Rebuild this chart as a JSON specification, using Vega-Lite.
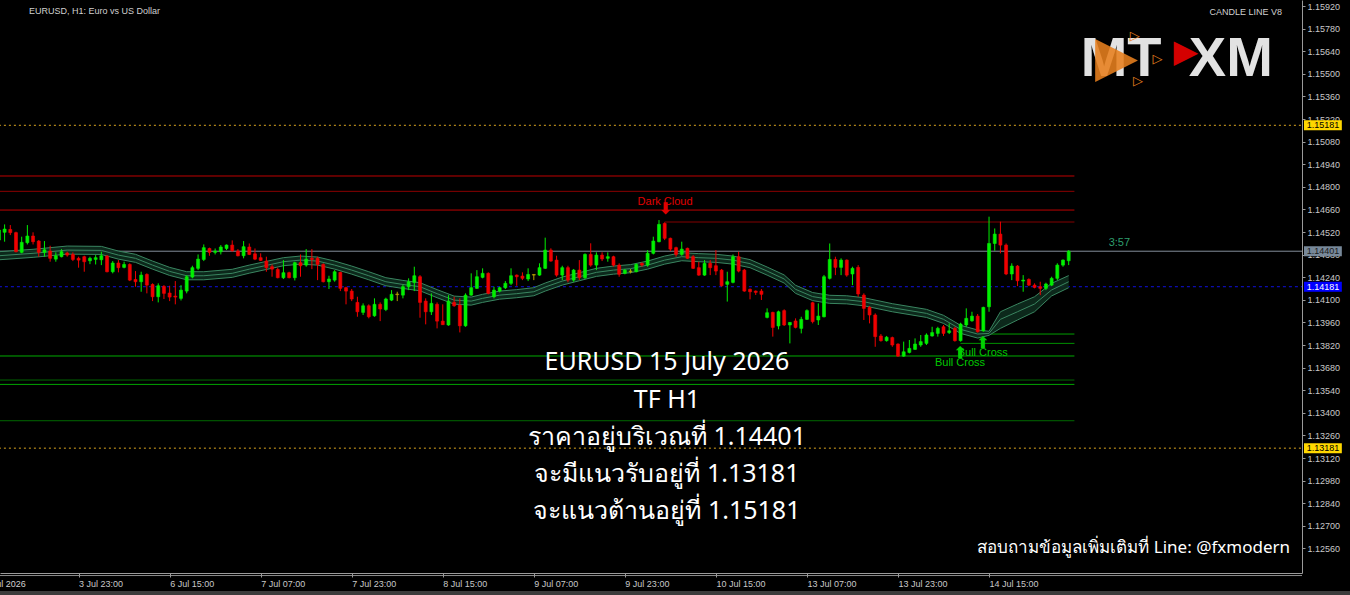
{
"$schema": "https://vega.github.io/schema/vega-lite/v6.json",
"width": 1302, "height": 573, "autosize": "none", "padding": {"left": 0, "top": 0, "right": 48, "bottom": 22},
"background": "#000000",
"config": {"view": {"stroke": null}, "axis": {"grid": false, "labelOverlap": false, "labelBound": false, "labelFlush": false}, "scale": {"continuousPadding": 0}},
"resolve": {"scale": {"color": "independent", "strokeDash": "independent"}},
"datasets": {
"levels": [
{"p":1.15181,"a":0,"b":229,"k":"res"},{"p":1.13181,"a":0,"b":229,"k":"res"},
{"p":1.14401,"a":0,"b":229,"k":"bid"},{"p":1.14181,"a":0,"b":229,"k":"avg"},
{"p":1.14867,"a":0,"b":189,"k":"r1"},{"p":1.14772,"a":0,"b":189,"k":"r2"},
{"p":1.14656,"a":0,"b":189,"k":"r1"},{"p":1.14582,"a":117,"b":189,"k":"r2"},
{"p":1.13888,"a":173,"b":189,"k":"g1"},{"p":1.13830,"a":169,"b":189,"k":"g1"},
{"p":1.13752,"a":0,"b":189,"k":"g1"},{"p":1.13603,"a":0,"b":189,"k":"g2"},
{"p":1.13576,"a":0,"b":189,"k":"g1"},{"p":1.13351,"a":0,"b":189,"k":"g2"},
{"p":1.12392,"a":0,"b":229,"k":"ax"}
],
"ma": [
{"i":0,"u":1.14398,"m":1.14373,"l":1.14348},{"i":6,"u":1.14413,"m":1.14388,"l":1.14363},
{"i":12,"u":1.14433,"m":1.14408,"l":1.14383},{"i":18,"u":1.14431,"m":1.14406,"l":1.14381},
{"i":21,"u":1.14402,"m":1.14377,"l":1.14352},{"i":24,"u":1.14382,"m":1.14357,"l":1.14332},
{"i":27,"u":1.14340,"m":1.14315,"l":1.14290},{"i":30,"u":1.14301,"m":1.14276,"l":1.14251},
{"i":33,"u":1.14274,"m":1.14249,"l":1.14224},{"i":36,"u":1.14274,"m":1.14249,"l":1.14224},
{"i":41,"u":1.14289,"m":1.14264,"l":1.14239},{"i":44,"u":1.14315,"m":1.14290,"l":1.14265},
{"i":47,"u":1.14338,"m":1.14313,"l":1.14288},{"i":50,"u":1.14361,"m":1.14336,"l":1.14311},
{"i":53,"u":1.14371,"m":1.14346,"l":1.14321},{"i":56,"u":1.14365,"m":1.14340,"l":1.14315},
{"i":59,"u":1.14340,"m":1.14315,"l":1.14290},{"i":62,"u":1.14309,"m":1.14284,"l":1.14259},
{"i":65,"u":1.14274,"m":1.14249,"l":1.14224},{"i":68,"u":1.14237,"m":1.14212,"l":1.14187},
{"i":71,"u":1.14220,"m":1.14195,"l":1.14170},{"i":74,"u":1.14206,"m":1.14181,"l":1.14156},
{"i":77,"u":1.14163,"m":1.14138,"l":1.14113},{"i":80,"u":1.14123,"m":1.14098,"l":1.14073},
{"i":83,"u":1.14117,"m":1.14092,"l":1.14067},{"i":85,"u":1.14134,"m":1.14109,"l":1.14084},
{"i":88,"u":1.14154,"m":1.14129,"l":1.14104},{"i":91,"u":1.14163,"m":1.14138,"l":1.14113},
{"i":94,"u":1.14175,"m":1.14150,"l":1.14125},{"i":96,"u":1.14204,"m":1.14179,"l":1.14154},
{"i":99,"u":1.14241,"m":1.14216,"l":1.14191},{"i":102,"u":1.14268,"m":1.14243,"l":1.14218},
{"i":105,"u":1.14295,"m":1.14270,"l":1.14245},{"i":108,"u":1.14309,"m":1.14284,"l":1.14259},
{"i":111,"u":1.14318,"m":1.14293,"l":1.14268},{"i":114,"u":1.14340,"m":1.14315,"l":1.14290},
{"i":117,"u":1.14371,"m":1.14346,"l":1.14321},{"i":120,"u":1.14392,"m":1.14367,"l":1.14342},
{"i":123,"u":1.14386,"m":1.14361,"l":1.14336},{"i":126,"u":1.14382,"m":1.14357,"l":1.14332},
{"i":129,"u":1.14371,"m":1.14346,"l":1.14321},{"i":132,"u":1.14349,"m":1.14324,"l":1.14299},
{"i":135,"u":1.14303,"m":1.14278,"l":1.14253},{"i":138,"u":1.14254,"m":1.14229,"l":1.14204},
{"i":140,"u":1.14190,"m":1.14165,"l":1.14140},{"i":143,"u":1.14145,"m":1.14120,"l":1.14095},
{"i":146,"u":1.14128,"m":1.14103,"l":1.14078},{"i":149,"u":1.14125,"m":1.14100,"l":1.14075},
{"i":152,"u":1.14113,"m":1.14088,"l":1.14063},{"i":157,"u":1.14076,"m":1.14051,"l":1.14026},
{"i":163,"u":1.14041,"m":1.14016,"l":1.13991},{"i":166,"u":1.14004,"m":1.13979,"l":1.13954},
{"i":169,"u":1.13942,"m":1.13917,"l":1.13892},{"i":172,"u":1.13913,"m":1.13888,"l":1.13863},
{"i":174,"u":1.13905,"m":1.13892,"l":1.13880},{"i":176,"u":1.14026,"m":1.13979,"l":1.13923},
{"i":179,"u":1.14074,"m":1.14026,"l":1.13975},{"i":182,"u":1.14119,"m":1.14074,"l":1.14026},
{"i":185,"u":1.14202,"m":1.14161,"l":1.14124},{"i":188,"u":1.14250,"m":1.14212,"l":1.14175}
],
"candles": [
{"i":0,"o":1.14470,"h":1.14553,"l":1.14460,"c":1.14532,"d":"u"},
{"i":1,"o":1.14518,"h":1.14567,"l":1.14460,"c":1.14538,"d":"u"},
{"i":2,"o":1.14536,"h":1.14563,"l":1.14501,"c":1.14516,"d":"d"},
{"i":3,"o":1.14516,"h":1.14522,"l":1.14394,"c":1.14398,"d":"d"},
{"i":4,"o":1.14394,"h":1.14491,"l":1.14388,"c":1.14456,"d":"u"},
{"i":5,"o":1.14454,"h":1.14563,"l":1.14443,"c":1.14495,"d":"u"},
{"i":6,"o":1.14495,"h":1.14518,"l":1.14443,"c":1.14460,"d":"d"},
{"i":7,"o":1.14464,"h":1.14470,"l":1.14367,"c":1.14394,"d":"d"},
{"i":8,"o":1.14394,"h":1.14464,"l":1.14367,"c":1.14410,"d":"u"},
{"i":9,"o":1.14402,"h":1.14435,"l":1.14336,"c":1.14357,"d":"d"},
{"i":10,"o":1.14352,"h":1.14394,"l":1.14336,"c":1.14373,"d":"u"},
{"i":11,"o":1.14367,"h":1.14414,"l":1.14363,"c":1.14398,"d":"u"},
{"i":12,"o":1.14390,"h":1.14398,"l":1.14367,"c":1.14377,"d":"d"},
{"i":13,"o":1.14381,"h":1.14394,"l":1.14340,"c":1.14350,"d":"d"},
{"i":14,"o":1.14357,"h":1.14367,"l":1.14299,"c":1.14346,"d":"d"},
{"i":15,"o":1.14367,"h":1.14373,"l":1.14274,"c":1.14336,"d":"d"},
{"i":16,"o":1.14342,"h":1.14367,"l":1.14321,"c":1.14357,"d":"u"},
{"i":17,"o":1.14350,"h":1.14377,"l":1.14319,"c":1.14361,"d":"u"},
{"i":18,"o":1.14348,"h":1.14398,"l":1.14315,"c":1.14373,"d":"u"},
{"i":19,"o":1.14371,"h":1.14377,"l":1.14270,"c":1.14274,"d":"d"},
{"i":20,"o":1.14274,"h":1.14340,"l":1.14264,"c":1.14328,"d":"u"},
{"i":21,"o":1.14328,"h":1.14346,"l":1.14270,"c":1.14299,"d":"d"},
{"i":22,"o":1.14301,"h":1.14336,"l":1.14295,"c":1.14319,"d":"u"},
{"i":23,"o":1.14319,"h":1.14326,"l":1.14216,"c":1.14222,"d":"d"},
{"i":24,"o":1.14226,"h":1.14278,"l":1.14181,"c":1.14212,"d":"d"},
{"i":25,"o":1.14212,"h":1.14274,"l":1.14150,"c":1.14253,"d":"u"},
{"i":26,"o":1.14257,"h":1.14264,"l":1.14140,"c":1.14191,"d":"d"},
{"i":27,"o":1.14195,"h":1.14202,"l":1.14092,"c":1.14119,"d":"d"},
{"i":28,"o":1.14119,"h":1.14202,"l":1.14084,"c":1.14187,"d":"u"},
{"i":29,"o":1.14183,"h":1.14191,"l":1.14105,"c":1.14140,"d":"d"},
{"i":30,"o":1.14142,"h":1.14187,"l":1.14092,"c":1.14117,"d":"d"},
{"i":31,"o":1.14123,"h":1.14216,"l":1.14072,"c":1.14117,"d":"d"},
{"i":32,"o":1.14109,"h":1.14191,"l":1.14096,"c":1.14160,"d":"u"},
{"i":33,"o":1.14154,"h":1.14253,"l":1.14140,"c":1.14243,"d":"u"},
{"i":34,"o":1.14241,"h":1.14311,"l":1.14233,"c":1.14299,"d":"u"},
{"i":35,"o":1.14295,"h":1.14381,"l":1.14284,"c":1.14352,"d":"u"},
{"i":36,"o":1.14350,"h":1.14443,"l":1.14340,"c":1.14423,"d":"u"},
{"i":37,"o":1.14418,"h":1.14423,"l":1.14373,"c":1.14394,"d":"d"},
{"i":38,"o":1.14394,"h":1.14418,"l":1.14381,"c":1.14402,"d":"u"},
{"i":39,"o":1.14398,"h":1.14439,"l":1.14381,"c":1.14427,"d":"u"},
{"i":40,"o":1.14418,"h":1.14443,"l":1.14408,"c":1.14439,"d":"u"},
{"i":41,"o":1.14439,"h":1.14468,"l":1.14398,"c":1.14404,"d":"d"},
{"i":42,"o":1.14402,"h":1.14414,"l":1.14369,"c":1.14373,"d":"d"},
{"i":43,"o":1.14373,"h":1.14464,"l":1.14357,"c":1.14429,"d":"u"},
{"i":44,"o":1.14427,"h":1.14449,"l":1.14377,"c":1.14381,"d":"d"},
{"i":45,"o":1.14385,"h":1.14418,"l":1.14346,"c":1.14352,"d":"d"},
{"i":46,"o":1.14361,"h":1.14388,"l":1.14340,"c":1.14344,"d":"d"},
{"i":47,"o":1.14340,"h":1.14367,"l":1.14274,"c":1.14299,"d":"d"},
{"i":48,"o":1.14305,"h":1.14319,"l":1.14243,"c":1.14290,"d":"d"},
{"i":49,"o":1.14288,"h":1.14299,"l":1.14233,"c":1.14237,"d":"d"},
{"i":50,"o":1.14237,"h":1.14346,"l":1.14229,"c":1.14268,"d":"u"},
{"i":51,"o":1.14268,"h":1.14274,"l":1.14233,"c":1.14237,"d":"d"},
{"i":52,"o":1.14237,"h":1.14336,"l":1.14220,"c":1.14330,"d":"u"},
{"i":53,"o":1.14330,"h":1.14381,"l":1.14243,"c":1.14311,"d":"d"},
{"i":54,"o":1.14315,"h":1.14414,"l":1.14305,"c":1.14352,"d":"u"},
{"i":55,"o":1.14357,"h":1.14414,"l":1.14290,"c":1.14350,"d":"d"},
{"i":56,"o":1.14357,"h":1.14367,"l":1.14222,"c":1.14319,"d":"d"},
{"i":57,"o":1.14319,"h":1.14326,"l":1.14208,"c":1.14212,"d":"d"},
{"i":58,"o":1.14212,"h":1.14249,"l":1.14167,"c":1.14229,"d":"u"},
{"i":59,"o":1.14222,"h":1.14284,"l":1.14212,"c":1.14274,"d":"u"},
{"i":60,"o":1.14270,"h":1.14274,"l":1.14154,"c":1.14171,"d":"d"},
{"i":61,"o":1.14175,"h":1.14181,"l":1.14072,"c":1.14154,"d":"d"},
{"i":62,"o":1.14154,"h":1.14167,"l":1.14092,"c":1.14105,"d":"d"},
{"i":63,"o":1.14084,"h":1.14119,"l":1.13995,"c":1.14026,"d":"d"},
{"i":64,"o":1.14022,"h":1.14078,"l":1.14006,"c":1.14063,"d":"u"},
{"i":65,"o":1.14063,"h":1.14072,"l":1.13985,"c":1.13995,"d":"d"},
{"i":66,"o":1.14001,"h":1.14109,"l":1.13995,"c":1.14072,"d":"u"},
{"i":67,"o":1.14072,"h":1.14084,"l":1.13968,"c":1.14043,"d":"d"},
{"i":68,"o":1.14040,"h":1.14113,"l":1.14030,"c":1.14105,"d":"u"},
{"i":69,"o":1.14098,"h":1.14160,"l":1.14092,"c":1.14134,"d":"u"},
{"i":70,"o":1.14136,"h":1.14150,"l":1.14092,"c":1.14132,"d":"z"},
{"i":71,"o":1.14129,"h":1.14195,"l":1.14109,"c":1.14181,"d":"u"},
{"i":72,"o":1.14181,"h":1.14233,"l":1.14160,"c":1.14212,"d":"u"},
{"i":73,"o":1.14208,"h":1.14305,"l":1.14154,"c":1.14249,"d":"u"},
{"i":74,"o":1.14243,"h":1.14253,"l":1.13989,"c":1.14084,"d":"d"},
{"i":75,"o":1.14092,"h":1.14109,"l":1.13948,"c":1.14026,"d":"d"},
{"i":76,"o":1.14026,"h":1.14140,"l":1.14006,"c":1.14078,"d":"u"},
{"i":77,"o":1.14072,"h":1.14084,"l":1.13923,"c":1.13968,"d":"d"},
{"i":78,"o":1.13968,"h":1.14072,"l":1.13944,"c":1.13946,"d":"d"},
{"i":79,"o":1.13944,"h":1.14129,"l":1.13939,"c":1.14092,"d":"u"},
{"i":80,"o":1.14084,"h":1.14119,"l":1.14057,"c":1.14063,"d":"d"},
{"i":81,"o":1.14067,"h":1.14109,"l":1.13898,"c":1.13939,"d":"d"},
{"i":82,"o":1.13939,"h":1.14140,"l":1.13933,"c":1.14129,"d":"u"},
{"i":83,"o":1.14129,"h":1.14264,"l":1.14125,"c":1.14175,"d":"u"},
{"i":84,"o":1.14171,"h":1.14284,"l":1.14167,"c":1.14243,"d":"u"},
{"i":85,"o":1.14239,"h":1.14295,"l":1.14233,"c":1.14264,"d":"u"},
{"i":86,"o":1.14264,"h":1.14270,"l":1.14134,"c":1.14140,"d":"d"},
{"i":87,"o":1.14119,"h":1.14181,"l":1.14109,"c":1.14160,"d":"u"},
{"i":88,"o":1.14154,"h":1.14181,"l":1.14146,"c":1.14175,"d":"u"},
{"i":89,"o":1.14175,"h":1.14216,"l":1.14167,"c":1.14202,"d":"u"},
{"i":90,"o":1.14202,"h":1.14295,"l":1.14191,"c":1.14249,"d":"u"},
{"i":91,"o":1.14253,"h":1.14257,"l":1.14187,"c":1.14243,"d":"d"},
{"i":92,"o":1.14247,"h":1.14270,"l":1.14222,"c":1.14233,"d":"d"},
{"i":93,"o":1.14229,"h":1.14295,"l":1.14216,"c":1.14257,"d":"u"},
{"i":94,"o":1.14257,"h":1.14259,"l":1.14222,"c":1.14253,"d":"z"},
{"i":95,"o":1.14253,"h":1.14326,"l":1.14249,"c":1.14299,"d":"u"},
{"i":96,"o":1.14295,"h":1.14485,"l":1.14291,"c":1.14408,"d":"u"},
{"i":97,"o":1.14408,"h":1.14419,"l":1.14336,"c":1.14340,"d":"d"},
{"i":98,"o":1.14346,"h":1.14373,"l":1.14243,"c":1.14253,"d":"d"},
{"i":99,"o":1.14253,"h":1.14311,"l":1.14222,"c":1.14299,"d":"u"},
{"i":100,"o":1.14299,"h":1.14311,"l":1.14208,"c":1.14222,"d":"d"},
{"i":101,"o":1.14222,"h":1.14291,"l":1.14212,"c":1.14284,"d":"u"},
{"i":102,"o":1.14284,"h":1.14346,"l":1.14222,"c":1.14237,"d":"d"},
{"i":103,"o":1.14237,"h":1.14388,"l":1.14229,"c":1.14381,"d":"u"},
{"i":104,"o":1.14381,"h":1.14450,"l":1.14305,"c":1.14315,"d":"d"},
{"i":105,"o":1.14315,"h":1.14394,"l":1.14284,"c":1.14377,"d":"u"},
{"i":106,"o":1.14377,"h":1.14394,"l":1.14340,"c":1.14353,"d":"d"},
{"i":107,"o":1.14357,"h":1.14394,"l":1.14336,"c":1.14367,"d":"u"},
{"i":108,"o":1.14367,"h":1.14373,"l":1.14305,"c":1.14315,"d":"d"},
{"i":109,"o":1.14315,"h":1.14326,"l":1.14243,"c":1.14258,"d":"d"},
{"i":110,"o":1.14264,"h":1.14291,"l":1.14258,"c":1.14284,"d":"u"},
{"i":111,"o":1.14278,"h":1.14291,"l":1.14264,"c":1.14274,"d":"z"},
{"i":112,"o":1.14274,"h":1.14326,"l":1.14270,"c":1.14319,"d":"u"},
{"i":113,"o":1.14326,"h":1.14332,"l":1.14305,"c":1.14315,"d":"d"},
{"i":114,"o":1.14315,"h":1.14408,"l":1.14305,"c":1.14388,"d":"u"},
{"i":115,"o":1.14388,"h":1.14491,"l":1.14381,"c":1.14464,"d":"u"},
{"i":116,"o":1.14460,"h":1.14594,"l":1.14456,"c":1.14567,"d":"u"},
{"i":117,"o":1.14573,"h":1.14580,"l":1.14470,"c":1.14481,"d":"d"},
{"i":118,"o":1.14481,"h":1.14485,"l":1.14402,"c":1.14414,"d":"d"},
{"i":119,"o":1.14423,"h":1.14429,"l":1.14367,"c":1.14381,"d":"d"},
{"i":120,"o":1.14381,"h":1.14460,"l":1.14373,"c":1.14414,"d":"u"},
{"i":121,"o":1.14419,"h":1.14423,"l":1.14353,"c":1.14357,"d":"d"},
{"i":122,"o":1.14367,"h":1.14377,"l":1.14291,"c":1.14295,"d":"d"},
{"i":123,"o":1.14299,"h":1.14336,"l":1.14249,"c":1.14253,"d":"d"},
{"i":124,"o":1.14253,"h":1.14346,"l":1.14249,"c":1.14326,"d":"u"},
{"i":125,"o":1.14326,"h":1.14346,"l":1.14253,"c":1.14299,"d":"d"},
{"i":126,"o":1.14311,"h":1.14408,"l":1.14253,"c":1.14278,"d":"d"},
{"i":127,"o":1.14284,"h":1.14291,"l":1.14181,"c":1.14187,"d":"d"},
{"i":128,"o":1.14196,"h":1.14274,"l":1.14089,"c":1.14212,"d":"u"},
{"i":129,"o":1.14208,"h":1.14381,"l":1.14202,"c":1.14367,"d":"u"},
{"i":130,"o":1.14367,"h":1.14398,"l":1.14270,"c":1.14278,"d":"d"},
{"i":131,"o":1.14284,"h":1.14291,"l":1.14150,"c":1.14154,"d":"d"},
{"i":132,"o":1.14165,"h":1.14170,"l":1.14103,"c":1.14150,"d":"d"},
{"i":133,"o":1.14154,"h":1.14158,"l":1.14130,"c":1.14146,"d":"d"},
{"i":134,"o":1.14154,"h":1.14167,"l":1.14099,"c":1.14134,"d":"d"},
{"i":135,"o":1.13991,"h":1.14047,"l":1.13985,"c":1.14020,"d":"u"},
{"i":136,"o":1.14022,"h":1.14026,"l":1.13872,"c":1.13929,"d":"d"},
{"i":137,"o":1.13938,"h":1.14033,"l":1.13917,"c":1.14026,"d":"u"},
{"i":138,"o":1.14033,"h":1.14041,"l":1.13938,"c":1.13944,"d":"d"},
{"i":139,"o":1.13944,"h":1.13962,"l":1.13830,"c":1.13960,"d":"u"},
{"i":140,"o":1.13969,"h":1.13985,"l":1.13923,"c":1.13929,"d":"d"},
{"i":141,"o":1.13923,"h":1.13995,"l":1.13892,"c":1.13979,"d":"u"},
{"i":142,"o":1.13979,"h":1.14041,"l":1.13975,"c":1.14033,"d":"u"},
{"i":143,"o":1.14082,"h":1.14088,"l":1.13954,"c":1.13965,"d":"d"},
{"i":144,"o":1.13975,"h":1.14078,"l":1.13944,"c":1.13999,"d":"u"},
{"i":145,"o":1.13995,"h":1.14254,"l":1.13991,"c":1.14243,"d":"u"},
{"i":146,"o":1.14233,"h":1.14449,"l":1.14226,"c":1.14350,"d":"u"},
{"i":147,"o":1.14350,"h":1.14367,"l":1.14253,"c":1.14301,"d":"d"},
{"i":148,"o":1.14301,"h":1.14357,"l":1.14253,"c":1.14346,"d":"u"},
{"i":149,"o":1.14346,"h":1.14350,"l":1.14243,"c":1.14253,"d":"d"},
{"i":150,"o":1.14260,"h":1.14305,"l":1.14191,"c":1.14295,"d":"u"},
{"i":151,"o":1.14301,"h":1.14315,"l":1.14119,"c":1.14136,"d":"d"},
{"i":152,"o":1.14129,"h":1.14140,"l":1.13975,"c":1.14047,"d":"d"},
{"i":153,"o":1.14053,"h":1.14061,"l":1.13954,"c":1.14006,"d":"d"},
{"i":154,"o":1.14006,"h":1.14016,"l":1.13809,"c":1.13872,"d":"d"},
{"i":155,"o":1.13876,"h":1.13888,"l":1.13841,"c":1.13847,"d":"d"},
{"i":156,"o":1.13847,"h":1.13876,"l":1.13841,"c":1.13868,"d":"u"},
{"i":157,"o":1.13866,"h":1.13872,"l":1.13809,"c":1.13820,"d":"d"},
{"i":158,"o":1.13826,"h":1.13830,"l":1.13747,"c":1.13751,"d":"d"},
{"i":159,"o":1.13751,"h":1.13841,"l":1.13747,"c":1.13778,"d":"u"},
{"i":160,"o":1.13774,"h":1.13851,"l":1.13768,"c":1.13799,"d":"u"},
{"i":161,"o":1.13793,"h":1.13861,"l":1.13789,"c":1.13826,"d":"u"},
{"i":162,"o":1.13820,"h":1.13882,"l":1.13809,"c":1.13841,"d":"u"},
{"i":163,"o":1.13830,"h":1.13892,"l":1.13820,"c":1.13882,"d":"u"},
{"i":164,"o":1.13876,"h":1.13933,"l":1.13872,"c":1.13897,"d":"u"},
{"i":165,"o":1.13892,"h":1.13933,"l":1.13872,"c":1.13923,"d":"u"},
{"i":166,"o":1.13933,"h":1.13944,"l":1.13876,"c":1.13892,"d":"d"},
{"i":167,"o":1.13897,"h":1.13954,"l":1.13888,"c":1.13908,"d":"u"},
{"i":168,"o":1.13923,"h":1.13933,"l":1.13841,"c":1.13847,"d":"d"},
{"i":169,"o":1.13847,"h":1.13958,"l":1.13841,"c":1.13950,"d":"u"},
{"i":170,"o":1.13944,"h":1.14047,"l":1.13933,"c":1.13985,"d":"u"},
{"i":171,"o":1.13970,"h":1.14026,"l":1.13964,"c":1.13999,"d":"u"},
{"i":172,"o":1.13999,"h":1.14012,"l":1.13897,"c":1.13902,"d":"d"},
{"i":173,"o":1.13908,"h":1.14057,"l":1.13902,"c":1.14053,"d":"u"},
{"i":174,"o":1.14057,"h":1.14615,"l":1.14026,"c":1.14449,"d":"u"},
{"i":175,"o":1.14449,"h":1.14542,"l":1.14404,"c":1.14507,"d":"u"},
{"i":176,"o":1.14507,"h":1.14584,"l":1.14388,"c":1.14439,"d":"d"},
{"i":177,"o":1.14439,"h":1.14449,"l":1.14253,"c":1.14260,"d":"d"},
{"i":178,"o":1.14260,"h":1.14326,"l":1.14222,"c":1.14309,"d":"u"},
{"i":179,"o":1.14309,"h":1.14315,"l":1.14185,"c":1.14218,"d":"d"},
{"i":180,"o":1.14216,"h":1.14253,"l":1.14150,"c":1.14222,"d":"u"},
{"i":181,"o":1.14226,"h":1.14233,"l":1.14185,"c":1.14191,"d":"d"},
{"i":182,"o":1.14191,"h":1.14202,"l":1.14171,"c":1.14177,"d":"d"},
{"i":183,"o":1.14181,"h":1.14212,"l":1.14129,"c":1.14171,"d":"d"},
{"i":184,"o":1.14171,"h":1.14206,"l":1.14160,"c":1.14198,"d":"u"},
{"i":185,"o":1.14191,"h":1.14243,"l":1.14185,"c":1.14233,"d":"u"},
{"i":186,"o":1.14233,"h":1.14326,"l":1.14222,"c":1.14315,"d":"u"},
{"i":187,"o":1.14315,"h":1.14350,"l":1.14305,"c":1.14346,"d":"u"},
{"i":188,"o":1.14342,"h":1.14408,"l":1.14315,"c":1.14401,"d":"u"}
],
"tags": [{"p":1.15181,"k":"y"},{"p":1.14401,"k":"g"},{"p":1.14181,"k":"b"},{"p":1.13181,"k":"y"}],
"notes": [
{"t":"Dark Cloud","i":117.07,"p":1.14708,"k":"red"},
{"t":"Bull Cross","i":172.9,"p":1.13769,"k":"green"},
{"t":"Bull Cross","i":168.9,"p":1.13707,"k":"green"}
],
"arrows": [
{"t":"⬇","i":117.07,"p":1.14663,"k":"red"},
{"t":"⬆","i":172.9,"p":1.13833,"k":"green"},
{"t":"⬆","i":168.9,"p":1.13771,"k":"green"}
],
"big": [
{"t":"EURUSD 15 July 2026","i":117.4,"p":1.13714},
{"t":"TF H1","i":117.4,"p":1.13478},
{"t":"ราคาอยู่บริเวณที่ 1.14401","i":117.4,"p":1.13248},
{"t":"จะมีแนวรับอยู่ที่ 1.13181","i":117.4,"p":1.13019},
{"t":"จะแนวต้านอยู่ที่ 1.15181","i":117.4,"p":1.12791}
]
},
"layer": [
{"data": {"name": "levels"},
 "mark": {"type": "rule", "strokeWidth": 1, "clip": false},
 "encoding": {
  "x": {"field": "a", "type": "quantitative", "title": null, "scale": {"domain": [0.19, 229.0], "nice": false, "zero": false, "padding": 0},
   "axis": {"orient": "bottom", "title": null, "values": [14,30,46,62,78,94,110,126,142,158,174], "tickCount": 40,
    "labelExpr": "['3 Jul 23:00','6 Jul 15:00','7 Jul 07:00','7 Jul 23:00','8 Jul 15:00','9 Jul 07:00','9 Jul 23:00','10 Jul 15:00','13 Jul 07:00','13 Jul 23:00','14 Jul 15:00'][round((datum.value-14)/16)]",
    "labelAlign": "left", "labelBaseline": "top", "labelPadding": 2, "tickSize": 4, "tickColor": "#9A9A9A", "domainColor": "#9A9A9A",
    "labelColor": "#C8C8C8", "labelFont": "Liberation Sans", "labelFontSize": 9, "labelOverlap": false, "labelFlush": false, "labelBound": false, "grid": false}},
  "x2": {"field": "b"},
  "y": {"field": "p", "type": "quantitative", "title": null, "scale": {"domain": [1.124077, 1.159572], "nice": false, "zero": false, "padding": 0},
   "axis": {"orient": "right", "title": null, "values": [1.1592,1.1578,1.1564,1.155,1.1536,1.1522,1.1508,1.1494,1.148,1.1466,1.1452,1.1438,1.1424,1.141,1.1396,1.1382,1.1368,1.1354,1.134,1.1326,1.1312,1.1298,1.1284,1.127,1.1256], "tickCount": 60,
    "format": ".5f", "tickSize": 3, "labelPadding": 2, "tickColor": "#9A9A9A", "domainColor": "#9A9A9A",
    "labelColor": "#C8C8C8", "labelFont": "Liberation Sans", "labelFontSize": 9, "labelOverlap": false, "labelFlush": false, "labelBound": false, "grid": false}},
  "color": {"field": "k", "type": "nominal", "legend": null,
   "scale": {"domain": ["res","bid","avg","r1","r2","g1","g2","ax"], "range": ["#DAA520","#8A96A3","#1010E0","#C80000","#960000","#00B400","#007000","#9A9A9A"]}},
  "strokeDash": {"field": "k", "type": "nominal", "legend": null,
   "scale": {"domain": ["res","bid","avg","r1","r2","g1","g2","ax"], "range": [[2,3],[1,0],[3,3],[1,0],[1,0],[1,0],[1,0],[1,0]]}}
 }},
{"data": {"values": [{"a":-10,"b":240,"p1":1.12296,"p2":1.12200}]},
 "mark": {"type": "rect", "color": "#3C3C3C", "clip": false},
 "encoding": {
  "x": {"field": "a", "type": "quantitative", "title": null},
  "x2": {"field": "b"},
  "y": {"field": "p1", "type": "quantitative", "title": null},
  "y2": {"field": "p2"}}},
{"data": {"name": "ma"},
 "mark": {"type": "area", "color": "#0D2C1E", "opacity": 0.9, "clip": true},
 "encoding": {
  "x": {"field": "i", "type": "quantitative", "title": null},
  "y": {"field": "u", "type": "quantitative", "title": null},
  "y2": {"field": "l"}}},
{"data": {"name": "ma"},
 "mark": {"type": "line", "color": "#3A8560", "strokeWidth": 1, "clip": true},
 "encoding": {
  "x": {"field": "i", "type": "quantitative", "title": null},
  "y": {"field": "u", "type": "quantitative", "title": null}}},
{"data": {"name": "ma"},
 "mark": {"type": "line", "color": "#3A8560", "strokeWidth": 1, "clip": true},
 "encoding": {
  "x": {"field": "i", "type": "quantitative", "title": null},
  "y": {"field": "m", "type": "quantitative", "title": null}}},
{"data": {"name": "ma"},
 "mark": {"type": "line", "color": "#3A8560", "strokeWidth": 1, "clip": true},
 "encoding": {
  "x": {"field": "i", "type": "quantitative", "title": null},
  "y": {"field": "l", "type": "quantitative", "title": null}}},
{"data": {"name": "candles"},
 "mark": {"type": "rule", "strokeWidth": 1, "clip": true},
 "encoding": {
  "x": {"field": "i", "type": "quantitative", "title": null},
  "y": {"field": "l", "type": "quantitative", "title": null},
  "y2": {"field": "h"},
  "color": {"field": "d", "type": "nominal", "legend": null, "scale": {"domain": ["u","d","z"], "range": ["#00F000","#F00000","#B4A000"]}}}},
{"data": {"name": "candles"},
 "mark": {"type": "bar", "orient": "vertical", "size": 3, "strokeWidth": 0.6, "clip": true},
 "encoding": {
  "x": {"field": "i", "type": "quantitative", "title": null},
  "y": {"field": "o", "type": "quantitative", "title": null},
  "y2": {"field": "c"},
  "color": {"field": "d", "type": "nominal", "legend": null, "scale": {"domain": ["u","d","z"], "range": ["#00F000","#F00000","#B4A000"]}},
  "stroke": {"field": "d", "type": "nominal", "legend": null, "scale": {"domain": ["u","d","z"], "range": ["#00F000","#F00000","#B4A000"]}}}},
{"data": {"name": "notes"},
 "mark": {"type": "text", "font": "Liberation Sans", "fontSize": 11, "align": "center", "baseline": "middle"},
 "encoding": {
  "x": {"field": "i", "type": "quantitative", "title": null},
  "y": {"field": "p", "type": "quantitative", "title": null},
  "text": {"field": "t"},
  "color": {"field": "k", "type": "nominal", "legend": null, "scale": {"domain": ["red","green"], "range": ["#E00000","#00C800"]}}}},
{"data": {"name": "arrows"},
 "mark": {"type": "text", "font": "DejaVu Sans", "fontSize": 16, "fontWeight": "bold", "align": "center", "baseline": "middle"},
 "encoding": {
  "x": {"field": "i", "type": "quantitative", "title": null},
  "y": {"field": "p", "type": "quantitative", "title": null},
  "text": {"field": "t"},
  "color": {"field": "k", "type": "nominal", "legend": null, "scale": {"domain": ["red","green"], "range": ["#E00000","#00D000"]}}}},
{"data": {"name": "big"},
 "mark": {"type": "text", "font": "Noto Sans", "fontSize": 25, "color": "#FFFFFF", "align": "center", "baseline": "middle"},
 "encoding": {
  "x": {"field": "i", "type": "quantitative", "title": null},
  "y": {"field": "p", "type": "quantitative", "title": null},
  "text": {"field": "t"}}},
{"data": {"values": [{"t":"สอบถามข้อมูลเพิ่มเติมที่ Line: @fxmodern","i":226.9,"p":1.12562}]},
 "mark": {"type": "text", "font": "Noto Sans", "fontSize": 17, "color": "#FFFFFF", "align": "right", "baseline": "middle"},
 "encoding": {
  "x": {"field": "i", "type": "quantitative", "title": null},
  "y": {"field": "p", "type": "quantitative", "title": null},
  "text": {"field": "t"}}},
{"data": {"values": [{"t":"EURUSD, H1:  Euro vs US Dollar","i":5.3,"p":1.15889},{"t":"3 Jul 2026","i":-2.6,"p":1.12340}]},
 "mark": {"type": "text", "font": "Liberation Sans", "fontSize": 9, "color": "#D0D0D0", "align": "left", "baseline": "middle"},
 "encoding": {
  "x": {"field": "i", "type": "quantitative", "title": null},
  "y": {"field": "p", "type": "quantitative", "title": null},
  "text": {"field": "t"}}},
{"data": {"values": [{"t":"CANDLE LINE V8","i":225.5,"p":1.15883}]},
 "mark": {"type": "text", "font": "Liberation Sans", "fontSize": 9, "color": "#D0D0D0", "align": "right", "baseline": "middle"},
 "encoding": {
  "x": {"field": "i", "type": "quantitative", "title": null},
  "y": {"field": "p", "type": "quantitative", "title": null},
  "text": {"field": "t"}}},
{"data": {"values": [{"t":"3:57","i":196.9,"p":1.14452}]},
 "mark": {"type": "text", "font": "Liberation Sans", "fontSize": 11, "color": "#2E9E6E", "align": "center", "baseline": "middle"},
 "encoding": {
  "x": {"field": "i", "type": "quantitative", "title": null},
  "y": {"field": "p", "type": "quantitative", "title": null},
  "text": {"field": "t"}}},
{"data": {"values": [{"t":"MT","i":197.2,"p":1.15592},{"t":"XM","i":216.5,"p":1.15592}]},
 "mark": {"type": "text", "font": "Liberation Sans", "fontSize": 56, "fontWeight": "bold", "color": "#E2E2E2", "align": "center", "baseline": "middle"},
 "encoding": {
  "x": {"field": "i", "type": "quantitative", "title": null},
  "y": {"field": "p", "type": "quantitative", "title": null},
  "text": {"field": "t"}}},
{"data": {"values": [{"t":"▶","i":196.4,"p":1.15598}]},
 "mark": {"type": "text", "font": "DejaVu Sans", "fontSize": 56, "color": "#E8801E", "opacity": 0.88, "align": "center", "baseline": "middle"},
 "encoding": {
  "x": {"field": "i", "type": "quantitative", "title": null},
  "y": {"field": "p", "type": "quantitative", "title": null},
  "text": {"field": "t"}}},
{"data": {"values": [{"t":"▷","i":199.6,"p":1.15735},{"t":"▷","i":203.6,"p":1.15592},{"t":"▷","i":200.2,"p":1.15455}]},
 "mark": {"type": "text", "font": "DejaVu Sans", "fontSize": 13, "color": "#E8801E", "align": "center", "baseline": "middle"},
 "encoding": {
  "x": {"field": "i", "type": "quantitative", "title": null},
  "y": {"field": "p", "type": "quantitative", "title": null},
  "text": {"field": "t"}}},
{"data": {"values": [{"t":"▶","i":208.6,"p":1.15635}]},
 "mark": {"type": "text", "font": "DejaVu Sans", "fontSize": 32, "color": "#D40000", "align": "center", "baseline": "middle"},
 "encoding": {
  "x": {"field": "i", "type": "quantitative", "title": null},
  "y": {"field": "p", "type": "quantitative", "title": null},
  "text": {"field": "t"}}},
{"data": {"name": "tags"},
 "mark": {"type": "bar", "orient": "horizontal", "size": 10, "clip": false},
 "encoding": {
  "x": {"datum": 229.35, "type": "quantitative"},
  "x2": {"datum": 236.0},
  "y": {"field": "p", "type": "quantitative", "title": null},
  "color": {"field": "k", "type": "nominal", "legend": null, "scale": {"domain": ["y","g","b"], "range": ["#FFD700","#778899","#0000FF"]}}}},
{"data": {"name": "tags"},
 "mark": {"type": "text", "font": "Liberation Sans", "fontSize": 9, "align": "center", "baseline": "middle", "clip": false},
 "encoding": {
  "x": {"datum": 232.7, "type": "quantitative"},
  "y": {"field": "p", "type": "quantitative", "title": null},
  "text": {"field": "p", "type": "quantitative", "format": ".5f"},
  "color": {"field": "k", "type": "nominal", "legend": null, "scale": {"domain": ["y","g","b"], "range": ["#000000","#1A1A1A","#FFFFFF"]}}}}
]
}
